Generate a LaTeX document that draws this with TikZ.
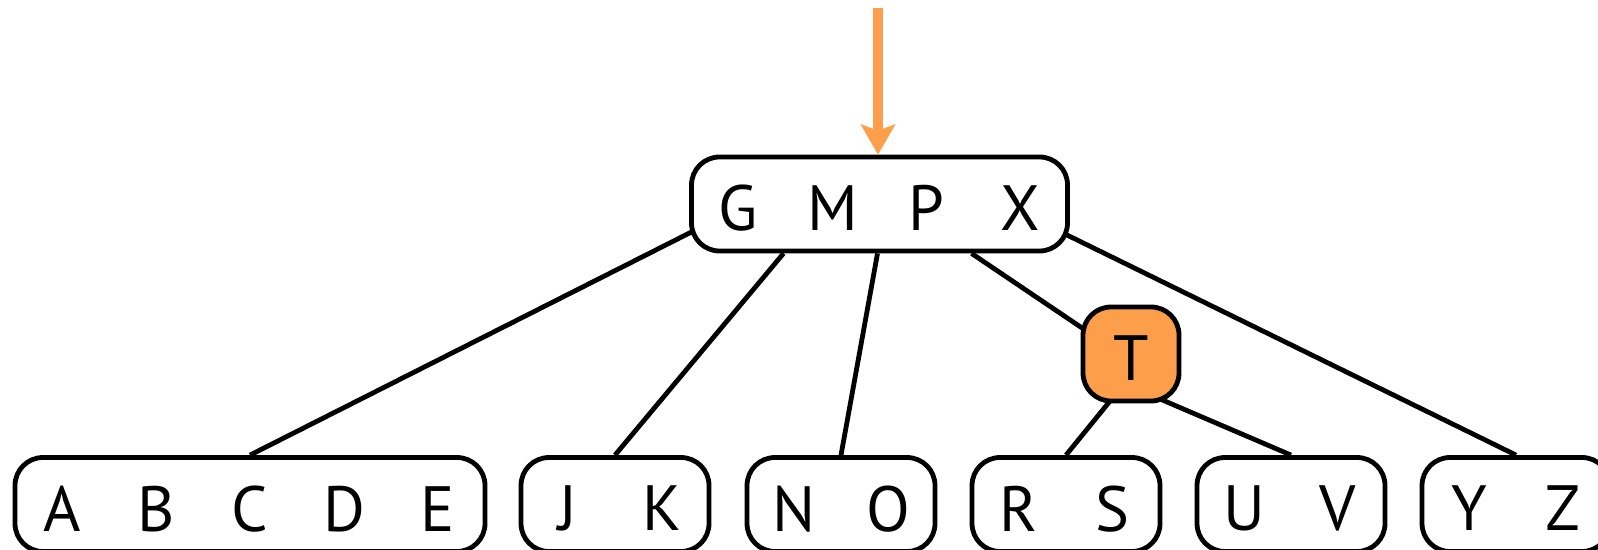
\documentclass[tikz,border=0pt]{standalone}
\usepackage{fontspec}
\setmainfont{PT Sans}
\usetikzlibrary{arrows.meta,backgrounds,calc}
\definecolor{torange}{RGB}{253,159,74}
\newcommand{\kk}[1]{\makebox[47pt]{#1}}
\newcommand{\keyrow}[1]{\raisebox{-2pt}[\height][0pt]{#1}}
\begin{document}
\begin{tikzpicture}[x=0.5pt,y=-0.5pt,
  font=\fontsize{32}{32}\selectfont,
  bnode/.style={draw,line width=2.4pt,rounded corners=14pt,fill=white,inner sep=0pt,minimum height=47pt},
  hot/.style={bnode,fill=torange},
  link/.style={line width=2.4pt},
  insert/.style={draw=torange,line width=5pt,-{Stealth[length=15pt,width=17pt,inset=3pt]}}]
\useasboundingbox (0,0) rectangle (1598,550);
\node[bnode,minimum width=188pt] (root) at (879.5,204) {\keyrow{\kk{G}\kk{M}\kk{P}\kk{X}}};
\node[hot,minimum width=48pt] (T) at (1131,354) {\keyrow{\kk{T}}};
\node[bnode,minimum width=235pt] (abcde) at (250,504.5) {\keyrow{\kk{A}\kk{B}\kk{C}\kk{D}\kk{E}}};
\node[bnode,minimum width=94pt] (jk) at (615,504.5) {\keyrow{\kk{J}\kk{K}}};
\node[bnode,minimum width=94pt] (no) at (841,504.5) {\keyrow{\kk{N}\kk{O}}};
\node[bnode,minimum width=94pt] (rs) at (1066,504.5) {\keyrow{\kk{R}\kk{S}}};
\node[bnode,minimum width=94pt] (uv) at (1291,504.5) {\keyrow{\kk{U}\kk{V}}};
\node[bnode,minimum width=94pt] (yz) at (1516,504.5) {\keyrow{\kk{Y}\kk{Z}}};
\coordinate (top) at (878,8);
\draw[insert] (top) -- (top |- root.north);
\begin{scope}[on background layer]
\draw[link] ($(root.center)+(-142.5,5)$) -- (abcde.north);
\draw[link] ($(root.south)+(-96,0)$) -- (jk.north);
\draw[link] ($(root.south)+(-2,0)$) -- (no.north);
\draw[link] ($(root.south)+(92,0)$) -- ($(T.center)+(0,7)$);
\draw[link] ($(root.center)+(138.5,7)$) -- (yz.north);
\draw[link] ($(T.center)+(1,20)$) -- (rs.north);
\draw[link] ($(T.center)+(1,33)$) -- (uv.north);
\end{scope}
\end{tikzpicture}
\end{document}
